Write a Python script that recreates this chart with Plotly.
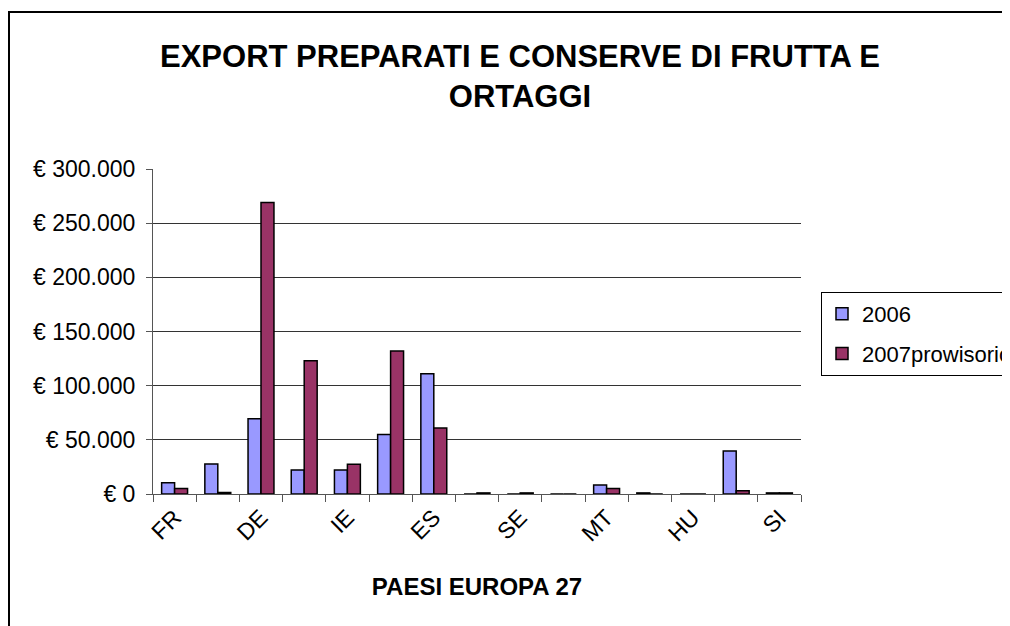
import plotly.graph_objects as go

categories = ["FR", "NL", "DE", "UK", "IE", "GR", "ES", "BE", "SE", "AT", "MT", "PL", "HU", "RO", "SI"]
values_2006 = [10500, 27800, 69400, 22200, 22200, 55000, 111000, 0, 0, 0, 8300, 1000, 0, 39800, 1000]
values_2007 = [5000, 1500, 269000, 123000, 27500, 132000, 61000, 1000, 1000, 0, 5000, 0, 0, 3000, 1000]
series_names = ["2006", "2007prowisorio"]
y_tick_values = [0, 50000, 100000, 150000, 200000, 250000, 300000]
y_tick_labels = ["€ 0", "€ 50.000", "€ 100.000", "€ 150.000", "€ 200.000", "€ 250.000", "€ 300.000"]
x_tick_labels = [c if i % 2 == 0 else "" for i, c in enumerate(categories)]

FONT = "Liberation Sans, Arial, sans-serif"

fig = go.Figure()
fig.add_trace(go.Bar(x=categories, y=values_2006, name=series_names[0], legendgroup="a",
                     marker=dict(color="#9999FF", line=dict(color="black", width=1.5))))
fig.add_trace(go.Bar(x=categories, y=values_2007, name=series_names[1], legendgroup="b",
                     marker=dict(color="#993366", line=dict(color="black", width=1.5))))

# page body adds an 8px offset; figure coords = screen coords - 8
OFF = 8
W, H = 1010, 626
L, R, T, B = 153 - OFF, 1010 - (801 - OFF), 169 - OFF, 626 - (494 - OFF)
pw, ph = W - L - R, H - T - B

def px_x(p):
    return (p - OFF - L) / pw

def px_y(p):
    return (H - B - (p - OFF)) / ph

fig.update_layout(
    width=W, height=H,
    margin=dict(l=L, r=R, t=T, b=B, autoexpand=False),
    paper_bgcolor="white", plot_bgcolor="white",
    font=dict(family=FONT, color="black"),
    barmode="group", bargap=0.4, bargroupgap=0,
    title=dict(text="<b>EXPORT PREPARATI E CONSERVE DI FRUTTA E<br>ORTAGGI</b>",
               font=dict(size=31, family=FONT, color="black"),
               x=(520 - OFF) / W, xref="container", xanchor="center",
               y=1 - 59 / H, yref="container", yanchor="top"),
    showlegend=True,
    legend=dict(x=px_x(821), y=px_y(292), xanchor="left", yanchor="top",
                bordercolor="black", borderwidth=1, bgcolor="white",
                font=dict(size=22, family=FONT, color="black"),
                tracegroupgap=8, traceorder="grouped"),
    xaxis=dict(type="category", tickson="boundaries", tickmode="array",
               tickvals=categories, ticktext=x_tick_labels, tickangle=-45,
               ticks="outside", ticklen=7, tickcolor="#555", tickwidth=1,
               showline=True, linecolor="#555", linewidth=1, showgrid=False,
               tickfont=dict(size=23, family=FONT, color="black"),
               title=dict(text="<b>PAESI EUROPA 27</b>", font=dict(size=24, family=FONT, color="black"),
                          standoff=32)),
    yaxis=dict(range=[0, 300000], tickmode="array", tickvals=y_tick_values, ticktext=y_tick_labels,
               ticks="outside", ticklen=6, tickcolor="#555", tickwidth=1,
               showline=True, linecolor="#555", linewidth=1,
               showgrid=True, gridcolor="#333", gridwidth=1, zeroline=False,
               tickfont=dict(size=23, family=FONT, color="black"), ticklabelstandoff=6),
    shapes=[dict(type="rect", xref="paper", yref="paper",
                 x0=px_x(9), x1=px_x(1040), y0=px_y(660), y1=px_y(12),
                 line=dict(color="black", width=2), fillcolor="rgba(0,0,0,0)", layer="below")],
)

fig.write_html("out.html")
